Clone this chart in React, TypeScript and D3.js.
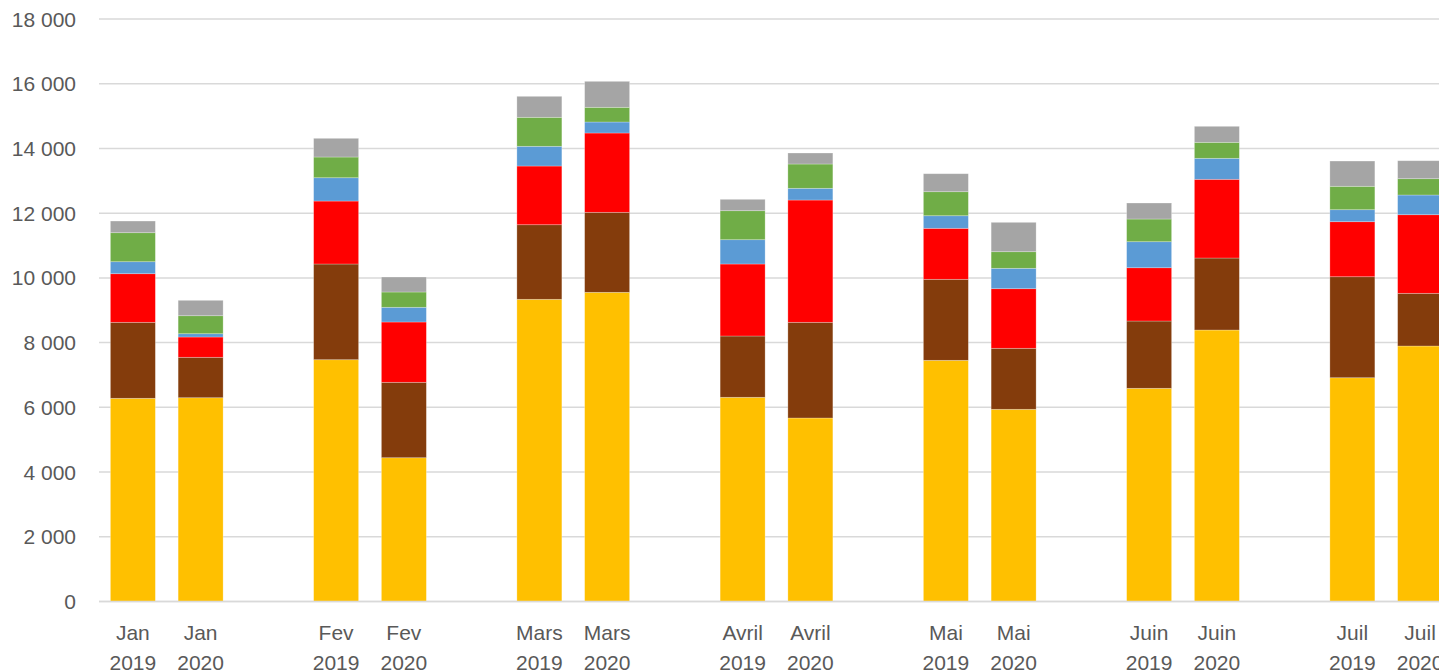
import React from "react";
import * as d3 from "d3";

const months = ["Jan", "Fev", "Mars", "Avril", "Mai", "Juin", "Juil"];
const years = ["2019", "2020"];

// one value per bar, in order: Jan 2019, Jan 2020, Fev 2019, Fev 2020, ...
const serie1 = [6279, 6297, 7472, 4443, 9338, 9554, 6310, 5670, 7453, 5939, 6588, 8389, 6915, 7895];
const serie2 = [2348, 1249, 2957, 2330, 2305, 2472, 1894, 2957, 2503, 1885, 2079, 2225, 3121, 1628];
const serie3 = [1502, 627, 1946, 1864, 1814, 2451, 2225, 3779, 1576, 1842, 1647, 2432, 1700, 2429];
const serie4 = [371, 102, 720, 454, 609, 340, 751, 362, 389, 630, 804, 649, 371, 609];
const serie5 = [896, 556, 640, 473, 896, 454, 896, 751, 742, 513, 701, 494, 723, 504];
const serie6 = [361, 476, 578, 463, 649, 803, 352, 340, 556, 908, 495, 495, 781, 556];

const seriesNames = ["s1", "s2", "s3", "s4", "s5", "s6"];
const seriesColors = ["#FFC000", "#843C0C", "#FF0000", "#5B9BD5", "#70AD47", "#A5A5A5"];
const yTicks = [0, 2000, 4000, 6000, 8000, 10000, 12000, 14000, 16000, 18000];

const W = 1439;
const H = 671;

export default function App() {
  const allSeries = [serie1, serie2, serie3, serie4, serie5, serie6];
  // slots: each month two bars followed by an empty slot
  const slots: string[] = [];
  const rows: any[] = [];
  let k = 0;
  months.forEach((m, mi) => {
    years.forEach((yv) => {
      const key = m + "|" + yv;
      slots.push(key);
      const row: any = { key, month: m, year: yv };
      seriesNames.forEach((s, si) => (row[s] = allSeries[si][k]));
      rows.push(row);
      k++;
    });
    slots.push("blank" + mi);
  });

  const step = 67.75;
  const left = 99;
  const x = d3
    .scaleBand<string>()
    .domain(slots)
    .range([left, left + step * slots.length])
    .paddingInner(0.336)
    .paddingOuter(0.168);
  const y = d3.scaleLinear().domain([0, 18000]).range([601.5, 19]);

  const stacked = d3.stack<any>().keys(seriesNames)(rows);
  const fmt = (v: number) => d3.format(",")(v).replace(/,/g, " ");

  return (
    <svg
      width={W}
      height={H}
      style={{ position: "absolute", left: 0, top: 0, display: "block", background: "#fff" }}
      fontFamily="'Liberation Sans', Arial, sans-serif"
    >
      <rect x={0} y={0} width={W} height={H} fill="#fff" />
      {yTicks.map((t) => (
        <g key={t}>
          <line x1={left} x2={W} y1={y(t)} y2={y(t)} stroke="#D9D9D9" strokeWidth={1.5} />
          <text x={76} y={y(t) + 7.5} textAnchor="end" fontSize={21} fill="#595959">
            {fmt(t)}
          </text>
        </g>
      ))}
      {stacked.map((layer, li) => (
        <g key={layer.key} fill={seriesColors[li]}>
          {layer.map((d: any) => (
            <rect
              key={d.data.key}
              x={x(d.data.key)}
              width={x.bandwidth()}
              y={y(d[1])}
              height={y(d[0]) - y(d[1])}
              stroke="rgba(255,255,255,0.35)"
              strokeWidth={0.75}
            />
          ))}
        </g>
      ))}
      <line x1={left} x2={W} y1={y(0)} y2={y(0)} stroke="#D9D9D9" strokeWidth={1.5} />
      {rows.map((r) => {
        const cx = (x(r.key) as number) + x.bandwidth() / 2;
        return (
          <g key={r.key} fontSize={21} fill="#595959" textAnchor="middle">
            <text x={cx} y={640}>{r.month}</text>
            <text x={cx} y={670}>{r.year}</text>
          </g>
        );
      })}
    </svg>
  );
}
